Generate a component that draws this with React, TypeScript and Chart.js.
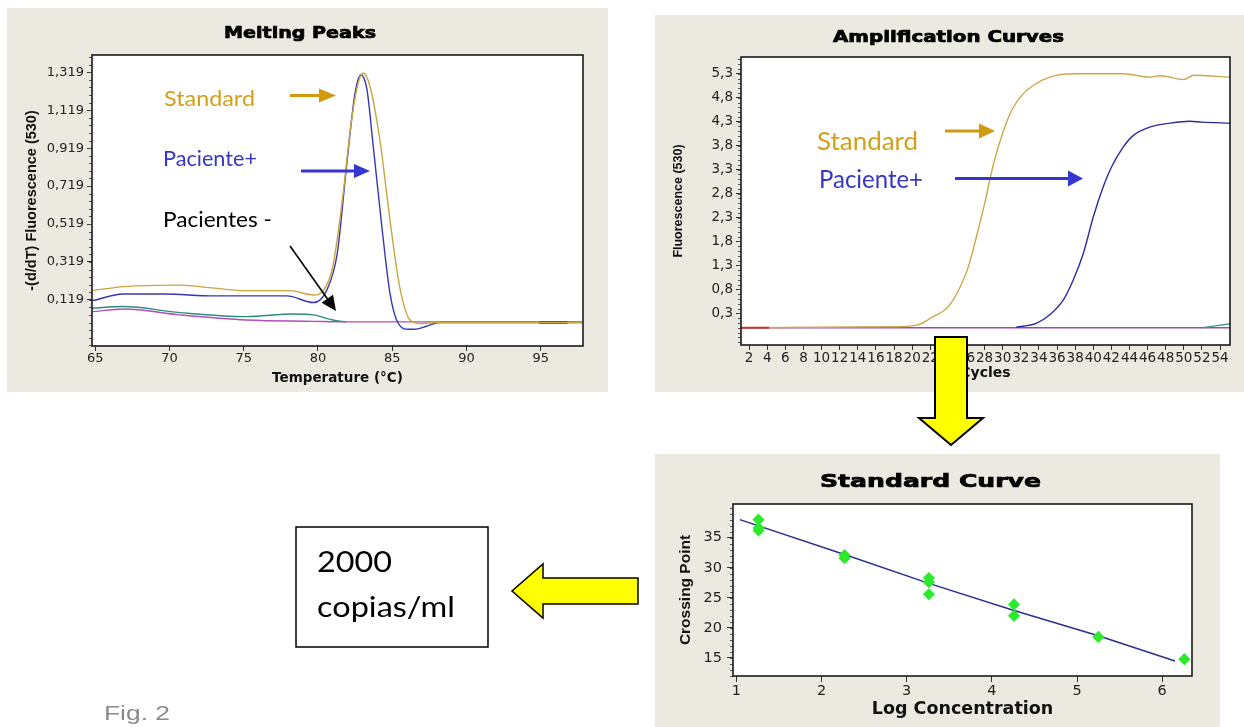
import React, { useEffect, useRef } from 'react';
import { Chart, registerables } from 'chart.js';

Chart.register(...registerables);

// ---------------- Melting Peaks ----------------
const MELT_X_TICKS = [65, 70, 75, 80, 85, 90, 95];
const MELT_Y_TICKS = [0.119, 0.319, 0.519, 0.719, 0.919, 1.119, 1.319];
const MELT_STD_T = [64.8, 66.9, 70.7, 73.0, 75.2, 78.1, 79.7, 80.4, 81.0, 81.7, 82.2, 82.7, 83.05, 83.5, 84.2, 84.85, 85.5, 86.2, 86.9, 88.0, 97.8];
const MELT_STD_V = [0.168, 0.189, 0.197, 0.181, 0.168, 0.168, 0.145, 0.172, 0.295, 0.682, 1.03, 1.26, 1.315, 1.245, 0.946, 0.54, 0.189, 0.013, -0.006, 0.0, 0.0];
const MELT_POS_T = [64.8, 66.9, 69.6, 73.0, 77.9, 79.7, 80.6, 81.3, 81.9, 82.5, 82.9, 83.3, 83.7, 84.3, 84.85, 85.4, 86.1, 86.6, 87.3, 88.2, 97.8];
const MELT_POS_V = [0.115, 0.15, 0.15, 0.14, 0.14, 0.105, 0.172, 0.365, 0.805, 1.21, 1.306, 1.227, 0.946, 0.506, 0.154, -0.004, -0.036, -0.035, -0.02, 0.0, 0.0];
const MELT_NEG1_T = [64.8, 66.9, 70.7, 75.2, 78.3, 79.7, 81.0, 81.9];
const MELT_NEG1_V = [0.075, 0.084, 0.052, 0.031, 0.045, 0.04, 0.013, 0.003];
const MELT_NEG2_T = [64.8, 66.9, 70.7, 75.2, 79.7, 81.9, 97.8];
const MELT_NEG2_V = [0.057, 0.071, 0.04, 0.013, 0.006, 0.003, 0.003];
const MELT_NAVY_T = [94.9, 96.8];
const MELT_NAVY_V = [0.0, 0.0];

// ---------------- Amplification Curves ----------------
const AMP_X_TICKS = [2, 4, 6, 8, 10, 12, 14, 16, 18, 20, 22, 24, 26, 28, 30, 32, 34, 36, 38, 40, 42, 44, 46, 48, 50, 52, 54];
const AMP_Y_TICKS = [0.3, 0.8, 1.3, 1.8, 2.3, 2.8, 3.3, 3.8, 4.3, 4.8, 5.3];
const AMP_STD_C = [1.1, 17.6, 20.5, 22.3, 24.0, 25.3, 26.2, 27.1, 28.0, 29.0, 30.1, 31.0, 32.1, 33.4, 35.2, 37.8, 43.3, 46.3, 47.4, 50.0, 51.1, 55.1];
const AMP_STD_F = [0.0, 0.02, 0.056, 0.23, 0.44, 0.85, 1.27, 1.9, 2.59, 3.43, 4.12, 4.54, 4.85, 5.06, 5.23, 5.3, 5.3, 5.23, 5.26, 5.18, 5.27, 5.23];
const AMP_POS_C = [31.5, 33.7, 35.2, 36.7, 37.8, 38.9, 40.0, 41.1, 42.0, 43.3, 44.4, 46.3, 48.5, 50.7, 52.0, 55.1];
const AMP_POS_F = [0.01, 0.09, 0.27, 0.58, 1.0, 1.55, 2.31, 2.94, 3.35, 3.77, 4.01, 4.19, 4.27, 4.31, 4.29, 4.27];
const AMP_NEG_C = [1.1, 55.1];
const AMP_NEG_F = [0.0, 0.0];
const AMP_TEAL_C = [52.0, 53.5, 55.1];
const AMP_TEAL_F = [0.0, 0.04, 0.08];
const AMP_RED_C = [1.1, 4.2];
const AMP_RED_F = [0.0, 0.0];

// ---------------- Standard Curve ----------------
const STD_X_TICKS = [1, 2, 3, 4, 5, 6];
const STD_Y_TICKS = [15, 20, 25, 30, 35];
const STD_LOGC = [1.26, 1.26, 1.26, 2.27, 2.27, 3.26, 3.26, 3.26, 4.26, 4.26, 5.25, 6.26];
const STD_CP = [38.0, 36.6, 36.2, 32.1, 31.6, 28.3, 27.6, 25.6, 23.9, 22.0, 18.5, 14.8];
const FIT_LOGC = [1.04, 2.27, 3.26, 4.26, 5.25, 6.15];
const FIT_CP = [38.0, 32.2, 27.4, 22.9, 18.7, 14.5];

const BG = '#ECE9E1';
const TICK_FONT = 'DejaVu Sans';

const pts = (xs: number[], ys: number[]) => xs.map((x, i) => ({ x, y: ys[i] }));

const framePlugin = {
  id: 'frame',
  beforeDraw(chart: any) {
    const { ctx, chartArea: a } = chart;
    ctx.save();
    ctx.fillStyle = '#ffffff';
    ctx.fillRect(a.left, a.top, a.right - a.left, a.bottom - a.top);
    ctx.restore();
  },
  afterDraw(chart: any, _args: any, opts: any) {
    const { ctx, chartArea: a } = chart;
    ctx.save();
    const ys = chart.scales.y;
    if (opts.minorStep && ys) {
      const step = opts.minorStep;
      const first = ys.ticks[0].value;
      let v = first - Math.floor((first - ys.min) / step) * step;
      ctx.strokeStyle = '#555';
      ctx.lineWidth = 1;
      ctx.beginPath();
      for (; v <= ys.max + 1e-9; v += step) {
        const px = Math.round(ys.getPixelForValue(v)) + 0.5;
        ctx.moveTo(a.left, px);
        ctx.lineTo(a.left - 3, px);
      }
      ctx.stroke();
    }
    ctx.strokeStyle = '#1a1a1a';
    ctx.lineWidth = 1.6;
    ctx.strokeRect(a.left, a.top, a.right - a.left, a.bottom - a.top);
    if (opts.title) {
      const t = opts.title;
      ctx.font = t.font;
      const w = ctx.measureText(t.text).width;
      ctx.translate(t.x, t.y);
      ctx.scale(t.width / w, 1);
      ctx.fillStyle = '#000';
      ctx.strokeStyle = '#000';
      ctx.lineWidth = 0.7;
      ctx.textAlign = 'center';
      ctx.textBaseline = 'middle';
      ctx.fillText(t.text, 0, 0);
      ctx.strokeText(t.text, 0, 0);
    }
    ctx.restore();
  },
};

const gridOpts = (len: number) => ({
  drawOnChartArea: false,
  drawTicks: true,
  tickLength: len,
  tickColor: '#333',
  color: '#333',
});

function meltConfig(): any {
  return {
    type: 'line',
    data: {
      datasets: [
        { label: 'Standard', data: pts(MELT_STD_T, MELT_STD_V), borderColor: '#C9A53E' },
        { label: 'Paciente+', data: pts(MELT_POS_T, MELT_POS_V), borderColor: '#3636B4' },
        { label: 'Navy', data: pts(MELT_NAVY_T, MELT_NAVY_V), borderColor: '#2A2A78', borderWidth: 2.5 },
        { label: 'Pacientes - (1)', data: pts(MELT_NEG1_T, MELT_NEG1_V), borderColor: '#2E8C7E' },
        { label: 'Pacientes - (2)', data: pts(MELT_NEG2_T, MELT_NEG2_V), borderColor: '#B050B4' },
      ],
    },
    options: {
      responsive: false,
      animation: false,
      devicePixelRatio: 1,
      layout: { padding: { top: 47, right: 25, left: 0, bottom: 0 } },
      elements: { point: { radius: 0 }, line: { borderWidth: 1.4, cubicInterpolationMode: 'monotone' } },
      plugins: {
        legend: { display: false },
        tooltip: { enabled: false },
        frame: {
          minorStep: 0.04,
          title: { text: 'Melting Peaks', font: 'bold 16px "DejaVu Sans"', x: 293, y: 26, width: 152 },
        },
      },
      scales: {
        x: {
          type: 'linear',
          min: 64.78,
          max: 97.85,
          afterBuildTicks: (s: any) => { s.ticks = MELT_X_TICKS.map((v) => ({ value: v })); },
          afterFit: (s: any) => { s.height = 46; },
          grid: gridOpts(5),
          border: { display: false },
          ticks: { font: { family: TICK_FONT, size: 13 }, color: '#222', padding: 0, maxRotation: 0, autoSkip: false },
          title: { display: true, text: 'Temperature (°C)', color: '#111', font: { family: 'DejaVu Sans', size: 13.5, weight: 'bold' }, padding: { top: 0, bottom: 5 } },
        },
        y: {
          type: 'linear',
          min: -0.124,
          max: 1.41,
          afterBuildTicks: (s: any) => { s.ticks = MELT_Y_TICKS.map((v) => ({ value: v })); },
          afterFit: (s: any) => { s.width = 85; },
          grid: gridOpts(5),
          border: { display: false },
          ticks: { font: { family: TICK_FONT, size: 13 }, color: '#222', padding: 3, callback: (v: any) => Number(v).toFixed(3).replace('.', ',') },
          title: { display: true, text: '-(d/dT) Fluorescence (530)', color: '#111', font: { family: 'Liberation Sans', size: 14.5, weight: 'bold' }, padding: { top: 16, bottom: 0 } },
        },
      },
    },
    plugins: [framePlugin],
  };
}

function ampConfig(): any {
  return {
    type: 'line',
    data: {
      datasets: [
        { label: 'Red', data: pts(AMP_RED_C, AMP_RED_F), borderColor: '#C03A3A', borderWidth: 2 },
        { label: 'Standard', data: pts(AMP_STD_C, AMP_STD_F), borderColor: '#C9A84A' },
        { label: 'Paciente+', data: pts(AMP_POS_C, AMP_POS_F), borderColor: '#2C2CA2' },
        { label: 'Teal', data: pts(AMP_TEAL_C, AMP_TEAL_F), borderColor: '#3A9A8A' },
        { label: 'Negativo', data: pts(AMP_NEG_C, AMP_NEG_F), borderColor: '#A048A8' },
      ],
    },
    options: {
      responsive: false,
      animation: false,
      devicePixelRatio: 1,
      layout: { padding: { top: 42, right: 14, left: 0, bottom: 0 } },
      elements: { point: { radius: 0 }, line: { borderWidth: 1.4, cubicInterpolationMode: 'monotone' } },
      plugins: {
        legend: { display: false },
        tooltip: { enabled: false },
        frame: {
          minorStep: 0.1,
          title: { text: 'Amplification Curves', font: 'bold 15px "DejaVu Sans"', x: 293.5, y: 23, width: 231 },
        },
      },
      scales: {
        x: {
          type: 'linear',
          min: 1.1,
          max: 55.1,
          afterBuildTicks: (s: any) => { s.ticks = AMP_X_TICKS.map((v) => ({ value: v })); },
          afterFit: (s: any) => { s.height = 47; },
          grid: gridOpts(5),
          border: { display: false },
          ticks: { font: { family: TICK_FONT, size: 13.5 }, color: '#222', padding: 0, maxRotation: 0, minRotation: 0, autoSkip: false },
          title: { display: true, text: 'Cycles', color: '#111', font: { family: 'DejaVu Sans', size: 14, weight: 'bold' }, padding: { top: 0, bottom: 10 } },
        },
        y: {
          type: 'linear',
          min: -0.36,
          max: 5.65,
          afterBuildTicks: (s: any) => { s.ticks = AMP_Y_TICKS.map((v) => ({ value: v })); },
          afterFit: (s: any) => { s.width = 86; },
          grid: gridOpts(5),
          border: { display: false },
          ticks: { font: { family: TICK_FONT, size: 13.5 }, color: '#222', padding: 3, callback: (v: any) => Number(v).toFixed(1).replace('.', ',') },
          title: { display: true, text: 'Fluorescence (530)', color: '#111', font: { family: 'Liberation Sans', size: 12.5, weight: 'bold' }, padding: { top: 16.5, bottom: 0 } },
        },
      },
    },
    plugins: [framePlugin],
  };
}

function stdConfig(): any {
  return {
    type: 'scatter',
    data: {
      datasets: [
        {
          label: 'Standards',
          data: pts(STD_LOGC, STD_CP),
          pointStyle: 'rectRot',
          pointRadius: 5,
          backgroundColor: '#2BEB2B',
          borderColor: '#2BEB2B',
          borderWidth: 1.5,
        },
        {
          label: 'Fit',
          data: pts(FIT_LOGC, FIT_CP),
          showLine: true,
          pointRadius: 0,
          borderColor: '#2E2E8E',
          borderWidth: 1.5,
        },
      ],
    },
    options: {
      responsive: false,
      animation: false,
      devicePixelRatio: 1,
      layout: { padding: { top: 50, right: 28, left: 0, bottom: 0 } },
      plugins: {
        legend: { display: false },
        tooltip: { enabled: false },
        frame: {
          minorStep: 1,
          title: { text: 'Standard Curve', font: 'bold 17.5px "DejaVu Sans"', x: 275.5, y: 28, width: 221 },
        },
      },
      scales: {
        x: {
          type: 'linear',
          min: 0.96,
          max: 6.35,
          afterBuildTicks: (s: any) => { s.ticks = STD_X_TICKS.map((v) => ({ value: v })); },
          afterFit: (s: any) => { s.height = 51; },
          grid: gridOpts(6),
          border: { display: false },
          ticks: { font: { family: TICK_FONT, size: 14.5 }, color: '#222', padding: 1, maxRotation: 0, autoSkip: false },
          title: { display: true, text: 'Log Concentration', color: '#111', font: { family: 'DejaVu Sans', size: 17.5, weight: 'bold' }, padding: { top: 0, bottom: 7.5 } },
        },
        y: {
          type: 'linear',
          min: 12.0,
          max: 40.6,
          afterBuildTicks: (s: any) => { s.ticks = STD_Y_TICKS.map((v) => ({ value: v })); },
          afterFit: (s: any) => { s.width = 78; },
          grid: gridOpts(6),
          border: { display: false },
          ticks: { font: { family: TICK_FONT, size: 14.5 }, color: '#222', padding: 5 },
          title: { display: true, text: 'Crossing Point', color: '#111', font: { family: 'Liberation Sans', size: 15.5, weight: 'bold' }, padding: { top: 21, bottom: 0 } },
        },
      },
    },
    plugins: [framePlugin],
  };
}

function ChartPanel(props: { make: () => any; left: number; top: number; width: number; height: number }) {
  const ref = useRef<HTMLCanvasElement>(null);
  useEffect(() => {
    const chart = new Chart(ref.current as HTMLCanvasElement, props.make());
    return () => chart.destroy();
  }, []);
  return (
    <canvas
      ref={ref}
      width={props.width}
      height={props.height}
      style={{ position: 'absolute', left: props.left, top: props.top, width: props.width, height: props.height, background: BG }}
    />
  );
}

function HArrow(p: { x1: number; x2: number; y: number; color: string; head: number; half: number; w: number }) {
  const hb = p.x2 - p.head;
  return (
    <g>
      <line x1={p.x1} y1={p.y} x2={hb + 1} y2={p.y} stroke={p.color} strokeWidth={p.w} />
      <polygon points={`${hb},${p.y - p.half} ${p.x2},${p.y} ${hb},${p.y + p.half}`} fill={p.color} />
    </g>
  );
}

const COMIC = 'Lato, "Open Sans", sans-serif';

export default function App() {
  return (
    <div style={{ position: 'absolute', left: 0, top: 0, width: 1244, height: 727, background: '#fff', overflow: 'hidden' }}>
      <ChartPanel make={meltConfig} left={7} top={8} width={601} height={384} />
      <ChartPanel make={ampConfig} left={655} top={15} width={589} height={377} />
      <ChartPanel make={stdConfig} left={655} top={454} width={565} height={273} />
      <svg width={1244} height={727} style={{ position: 'absolute', left: 0, top: 0, pointerEvents: 'none' }}>
        <text x={164} y={106} fontFamily={COMIC} fontSize={21} fill="#D2A019" textLength={91} lengthAdjust="spacingAndGlyphs">Standard</text>
        <text x={163} y={166} fontFamily={COMIC} fontSize={21} fill="#3535CC" textLength={94} lengthAdjust="spacingAndGlyphs">Paciente+</text>
        <text x={163} y={227} fontFamily={COMIC} fontSize={21} fill="#000" textLength={109} lengthAdjust="spacingAndGlyphs">Pacientes -</text>
        <HArrow x1={290} x2={336} y={95.5} color="#D09A10" head={17} half={7} w={3} />
        <HArrow x1={301} x2={370} y={171} color="#3535D0" head={16} half={7} w={3} />
        <line x1={290} y1={246} x2={329} y2={301} stroke="#000" strokeWidth={1.6} />
        <polygon points="321.6,302.7 333.0,294.7 336,311" fill="#000" />
        <text x={817} y={150} fontFamily={COMIC} fontSize={25} fill="#D2A019" textLength={101} lengthAdjust="spacingAndGlyphs">Standard</text>
        <text x={819} y={188} fontFamily={COMIC} fontSize={25} fill="#3535CC" textLength={104} lengthAdjust="spacingAndGlyphs">Paciente+</text>
        <HArrow x1={945} x2={995} y={131} color="#D09A10" head={16} half={7.5} w={3} />
        <HArrow x1={955} x2={1083} y={178.5} color="#3535D0" head={15} half={8} w={3} />
        <polygon points="935,337 967,337 967,418 983,418 951,445 919,418 935,418" fill="#FFFF00" stroke="#000" strokeWidth={2} strokeLinejoin="miter" />
        <polygon points="638,578 543,578 543,564 512,591 543,618 543,604 638,604" fill="#FFFF00" stroke="#000" strokeWidth={1.5} />
        <rect x={296} y={527} width={192} height={120} fill="#fff" stroke="#000" strokeWidth={1.5} />
        <text x={317} y={572} fontFamily={COMIC} fontSize={29} fill="#000" textLength={75} lengthAdjust="spacingAndGlyphs">2000</text>
        <text x={317} y={617} fontFamily={COMIC} fontSize={29} fill="#000" textLength={138} lengthAdjust="spacingAndGlyphs">copias/ml</text>
        <text x={104} y={720} fontFamily="Liberation Sans, Arial, sans-serif" fontSize={20} fill="#8a8a8a" textLength={66} lengthAdjust="spacingAndGlyphs">Fig. 2</text>
      </svg>
    </div>
  );
}
